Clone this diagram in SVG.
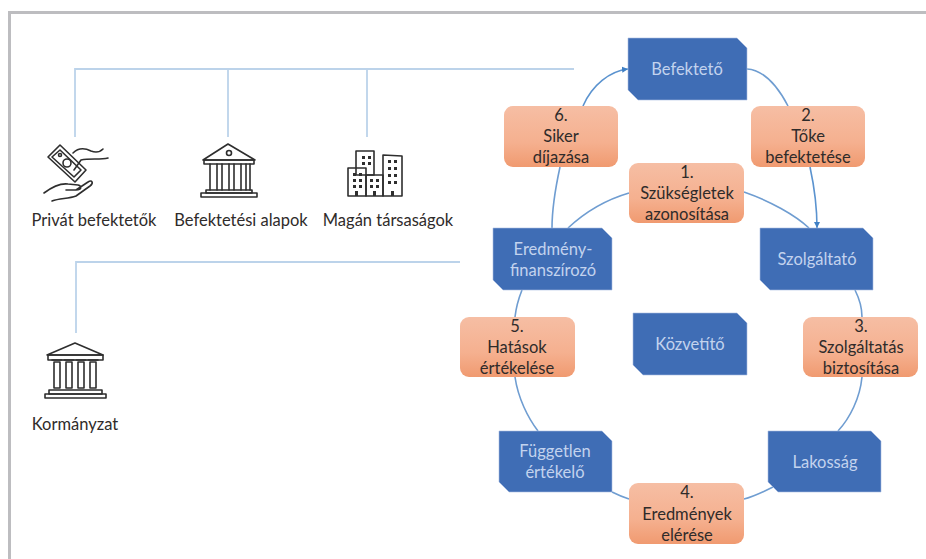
<svg xmlns="http://www.w3.org/2000/svg" width="926" height="559" viewBox="0 0 926 559">
<defs>
<linearGradient id="og" x1="0" y1="0" x2="0" y2="1"><stop offset="0" stop-color="#f6bea4"/><stop offset="0.6" stop-color="#f5b08f"/><stop offset="1" stop-color="#f09a70"/></linearGradient>
<marker id="arr" markerUnits="userSpaceOnUse" markerWidth="7" markerHeight="7" refX="6" refY="3.5" orient="auto"><path d="M0 .5L6 3.5L0 6.5Z" fill="#3f7fc4"/></marker>
</defs>
<style>
text{font-family:Lato,"Open Sans","Liberation Sans",sans-serif;font-size:16.5px;text-anchor:middle}
.b path{fill:#3f6db5;stroke:#a9bde0;stroke-width:.6}
.b text{fill:#c3d3ee}
.o rect{fill:url(#og)}
.o text,.l text{fill:#2f2b2a}
.c path{fill:none;stroke:#6f9dd1;stroke-width:1.6}
.t path{fill:none;stroke:#bcd3ea;stroke-width:1.8}
.i *{fill:none;stroke:#2e2e2e;stroke-width:1.6;stroke-linejoin:round;stroke-linecap:round}
.d{fill:#2e2e2e;stroke:none}
</style>
<path d="M926 12.500H9.500V559" fill="none" stroke="#bdbdc0" stroke-width="3"/>
<g id="connectors" class="c">
<g class="t"><path d="M75 137V69H574"/><path d="M228 69V137"/><path d="M367 69V137"/><path d="M76 333V262H460"/></g>
<path d="M583 106C592 85 610 71 628 69" marker-end="url(#arr)" style="stroke:#5b93cf"/>
<path d="M747 69C763 70 777 85 788 106"/>
<path d="M810 167C815 190 817 210 817 228" marker-end="url(#arr)" style="stroke:#5b93cf"/>
<path d="M744 192C770 201 795 215 809 228"/>
<path d="M629 193C605 200 583 214 568 228"/>
<path d="M560 167C555 190 552 210 552 228"/>
<path d="M522 290C518 300 516 308 515 317"/>
<path d="M855 290C860 300 862 308 862 317"/>
<path d="M862 377C860 398 850 418 838 431"/>
<path d="M515 377C518 398 528 418 538 431"/>
<path d="M612 492C618 495 623 497 629 499"/>
<path d="M744 499C752 497 759 494 773 487"/>
</g>
<g id="n-befekteto" class="b"><path d="M628 38H737L747 48V100H638L628 90Z"/><text x="687" y="75">Befektető</text></g>
<g id="n-eredmeny" class="b"><path d="M493 228H602L612 238V290H503L493 280Z"/><text x="553" y="255">Eredmény-</text><text x="553" y="276">finanszírozó</text></g>
<g id="n-szolgaltato" class="b"><path d="M760 228H863L873 238V290H770L760 280Z"/><text x="817" y="265">Szolgáltató</text></g>
<g id="n-kozvetito" class="b"><path d="M633 313H737L747 323V375H643L633 365Z"/><text x="690" y="350">Közvetítő</text></g>
<g id="n-fuggetlen" class="b"><path d="M499 431H602L612 441V492H509L499 482Z"/><text x="555" y="457">Független</text><text x="555" y="478">értékelő</text></g>
<g id="n-lakossag" class="b"><path d="M768 431H871L881 441V492H778L768 482Z"/><text x="825" y="468">Lakosság</text></g>
<g id="s-1" class="o"><rect x="629" y="163" width="115" height="60" rx="9"/><text x="687" y="178">1.</text><text x="687" y="199">Szükségletek</text><text x="687" y="220">azonosítása</text></g>
<g id="s-2" class="o"><rect x="751" y="106" width="114" height="61" rx="9"/><text x="808" y="121">2.</text><text x="808" y="142">Tőke</text><text x="808" y="163">befektetése</text></g>
<g id="s-3" class="o"><rect x="803" y="317" width="115" height="60" rx="9"/><text x="861" y="332">3.</text><text x="861" y="353">Szolgáltatás</text><text x="861" y="374">biztosítása</text></g>
<g id="s-4" class="o"><rect x="629" y="483" width="115" height="61" rx="9"/><text x="687" y="498">4.</text><text x="687" y="520">Eredmények</text><text x="687" y="541">elérése</text></g>
<g id="s-5" class="o"><rect x="460" y="317" width="115" height="60" rx="9"/><text x="517" y="332">5.</text><text x="517" y="353">Hatások</text><text x="517" y="374">értékelése</text></g>
<g id="s-6" class="o"><rect x="504" y="106" width="114" height="61" rx="9"/><text x="561" y="121">6.</text><text x="561" y="142">Siker</text><text x="561" y="163">díjazása</text></g>
<g id="a-privat" class="l">
<g class="i"><path d="M48 157L60 145L86 170L75 182Z"/><path d="M52 157L60 150L81 170L74 177Z"/><circle cx="67" cy="163" r="4"/><circle cx="60" cy="155" r="1.5"/><path d="M73 153C78 148 85 148 91 151C96 153 100 152 103 149"/><path d="M74 170L81 160C90 158 100 160 108 158"/><path d="M44 193C52 187 60 183 68 184L78 185C82 186 82 190 76 190H66M76 190L88 182C92 179 94 183 90 186L76 196C68 199 60 198 52 201"/></g>
<text x="94" y="226">Privát befektetők</text></g>
<g id="a-alapok" class="l">
<g class="i"><path d="M228 144L203 160H255Z"/><circle cx="229" cy="153" r="2.500"/><rect x="204" y="160" width="50" height="4"/><path d="M210 164V190M217 164V190M222 164V190M229 164V190M234 164V190M241 164V190M246 164V190M250 164V190"/><rect x="206" y="190" width="46" height="3"/><rect x="201" y="193" width="56" height="4"/></g>
<text x="241" y="226">Befektetési alapok</text></g>
<g id="a-magan" class="l">
<g class="i"><rect x="356" y="151" width="18" height="24"/><rect x="348" y="168" width="18" height="28"/><rect x="366" y="175" width="17" height="21"/><path d="M383 196V155L402 156V196Z"/></g>
<g class="d"><rect x="362" y="156" width="3" height="3"/><rect x="368" y="156" width="3" height="3"/><rect x="362" y="162" width="3" height="3"/><rect x="368" y="162" width="3" height="3"/><rect x="353" y="173" width="3" height="3"/><rect x="359" y="173" width="3" height="3"/><rect x="353" y="179" width="3" height="3"/><rect x="359" y="179" width="3" height="3"/><rect x="353" y="185" width="3" height="3"/><rect x="359" y="185" width="3" height="3"/><rect x="370" y="179" width="3" height="3"/><rect x="376" y="179" width="3" height="3"/><rect x="370" y="185" width="3" height="3"/><rect x="376" y="185" width="3" height="3"/><rect x="388" y="160" width="3" height="3"/><rect x="394" y="160" width="3" height="3"/><rect x="388" y="167" width="3" height="3"/><rect x="394" y="167" width="3" height="3"/><rect x="388" y="174" width="3" height="3"/><rect x="394" y="174" width="3" height="3"/><rect x="388" y="181" width="3" height="3"/><rect x="394" y="181" width="3" height="3"/><rect x="355" y="191" width="3" height="5"/><rect x="373" y="191" width="3" height="5"/><rect x="391" y="191" width="3" height="5"/></g>
<text x="388" y="226">Magán társaságok</text></g>
<g id="a-kormany" class="l">
<g class="i"><path d="M75 343L47 355H103Z"/><rect x="48" y="355" width="55" height="5"/><rect x="54" y="362" width="6" height="26"/><rect x="66" y="362" width="6" height="26"/><rect x="78" y="362" width="6" height="26"/><rect x="90" y="362" width="6" height="26"/><path d="M52 360H62M64 360H74M76 360H86M88 360H98"/><rect x="49" y="390" width="53" height="4"/><rect x="45" y="394" width="61" height="4"/></g>
<text x="75" y="430">Kormányzat</text></g>
</svg>
